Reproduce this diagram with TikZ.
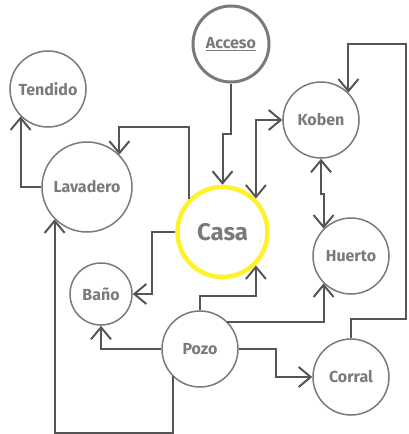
\documentclass[tikz,border=0pt]{standalone}
\usepackage{fontspec}
\setmainfont{Fira Sans}
\usetikzlibrary{arrows.meta}
\definecolor{ringgray}{HTML}{7A7A7A}
\definecolor{linkgray}{HTML}{555555}
\definecolor{casayellow}{HTML}{FFF22A}
\begin{document}
\begin{tikzpicture}[x=1pt,y=1pt,
    place/.style={draw=ringgray,line width=1.5pt,circle,minimum size=76pt,inner sep=0pt,text=ringgray,font=\fontsize{16}{18}\selectfont\bfseries},
    link/.style={draw=linkgray,line width=2pt,-{Straight Barb[length=12pt,width=20pt]}},
    both/.style={link,{Straight Barb[length=12pt,width=20pt]}-{Straight Barb[length=12pt,width=20pt]}}]
        \useasboundingbox (0,0) rectangle (408,-434);
        \node[place] (tend) at (48,-89) {Tendido};
        \node[place,minimum size=90pt] (lav) at (87,-187) {Lavadero};
        \node[place,line width=3pt] (acc) at (231,-44) {\underline{Acceso}};
        \node[place] (kob) at (321,-120) {Koben};
        \node[place,draw=casayellow,line width=4.5pt,minimum size=90pt,font=\fontsize{24}{26}\selectfont\bfseries] (casa) at (222.5,-232) {Casa};
        \node[place] (hue) at (351,-256) {Huerto};
        \node[place,minimum size=62pt] (ban) at (101,-294) {Baño};
        \node[place] (poz) at (200,-349) {Pozo};
        \node[place] (cor) at (351,-377) {Corral};
        % connectors
        \draw[link] (lav.west) -| (tend.south west);
        \draw[link] (casa.north west) -- ++(0,72) -| (lav.north east);
        \draw[link] (acc.south) -- ++(0,-50) -| (casa.north);
        \draw[both] (casa.north east) |- (kob.west);
        \draw[both] (kob.south) -- ++(0,-35) -| (hue.north west);
        \draw[link] (cor.north) -- ++(0,19) -- ++(55,0) -- ++(0,275) -| (kob.north east);
        \draw[link] (poz.north) -- ++(0,14) -| (casa.south east);
        \draw[link] (poz.north east) -| (hue.south west);
        \draw[link] (poz.east) -- ++(37,0) |- (cor.west);
        \draw[link] (poz.west) -| (ban.south);
        \draw[link] (casa.west) -- ++(-23,0) |- (ban.east);
        \draw[link] (poz.south west) -- ++(0,-57) -| (lav.south west);
    \end{tikzpicture}
\end{document}
